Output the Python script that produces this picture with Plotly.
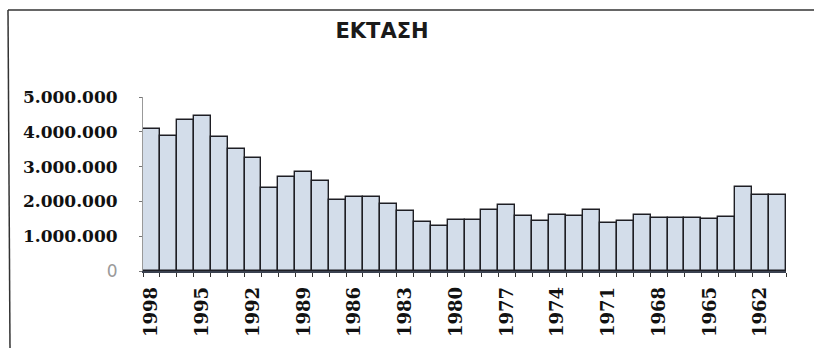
import plotly.graph_objects as go

# Area per year, 1998 back to 1961
years = list(range(1998, 1960, -1))
area = [
    4080000, 3890000, 4330000, 4460000, 3860000, 3520000, 3250000, 2380000,
    2710000, 2840000, 2600000, 2050000, 2140000, 2140000, 1930000, 1730000,
    1410000, 1290000, 1460000, 1460000, 1740000, 1890000, 1570000, 1430000,
    1620000, 1570000, 1740000, 1390000, 1430000, 1620000, 1520000, 1520000,
    1520000, 1500000, 1550000, 2410000, 2190000, 2190000,
]
year_ticks = list(range(1998, 1961, -3))
y_ticks = [0, 1000000, 2000000, 3000000, 4000000, 5000000]
y_labels = ['<span style="color:#9a9a9a;font-weight:normal;font-family:DejaVu Sans">0</span>',
            "1.000.000", "2.000.000", "3.000.000", "4.000.000", "5.000.000"]

W, H = 814, 348
L, R, T, B = 143, 28, 97, 77

fig = go.Figure(go.Bar(
    x=years,
    y=area,
    width=1,
    marker=dict(color="#d3ddea", line=dict(color="#1e1e24", width=1.4)),
))

plot_w = W - L - R
plot_h = H - T - B


def px_to_paper_x(px):
    return (px - L) / plot_w


def px_to_paper_y(py):
    return (H - B - py) / plot_h


fig.update_layout(
    width=W, height=H,
    margin=dict(l=L, r=R, t=T, b=B, pad=0),
    paper_bgcolor="white",
    plot_bgcolor="white",
    separators=",.",
    bargap=0,
    showlegend=False,
    title=dict(
        text="ΕΚΤΑΣΗ",
        x=382 / W, xanchor="center",
        y=1 - 31 / H, yanchor="middle",
        font=dict(family="DejaVu Sans", size=21, color="#1a1a1a", weight="bold"),
    ),
    xaxis=dict(
        range=[1998.5, 1960.5],
        tickmode="array",
        tickvals=year_ticks,
        ticktext=[str(v) for v in year_ticks],
        tickangle=-90,
        ticks="",
        ticklabelstandoff=7,
        showgrid=False,
        zeroline=False,
        showline=True,
        linecolor="#3a4150",
        linewidth=1.5,
        tickfont=dict(family="DejaVu Serif", size=18, color="#111", weight="bold"),
        minor=dict(tickmode="linear", tick0=0.5, dtick=1, ticks="outside",
                   ticklen=4, tickcolor="#333", tickwidth=1.2, showgrid=False),
    ),
    yaxis=dict(
        range=[0, 5000000],
        tickmode="array",
        tickvals=y_ticks,
        ticktext=y_labels,
        ticks="outside",
        ticklen=3,
        tickcolor="#777",
        showgrid=False,
        zeroline=False,
        showline=True,
        linecolor="#999",
        linewidth=1,
        ticklabelstandoff=18,
        tickfont=dict(family="DejaVu Serif", size=17, color="#111", weight="bold"),
    ),
    shapes=[
        # outer frame: top and left edges
        dict(type="line", xref="paper", yref="paper",
             x0=px_to_paper_x(8), x1=px_to_paper_x(W), y0=px_to_paper_y(10), y1=px_to_paper_y(10),
             line=dict(color="#333", width=1.5)),
        dict(type="line", xref="paper", yref="paper",
             x0=px_to_paper_x(8), x1=px_to_paper_x(10), y0=px_to_paper_y(10), y1=px_to_paper_y(H),
             line=dict(color="#333", width=1.5)),
    ],
)

fig.write_html("out.html")
